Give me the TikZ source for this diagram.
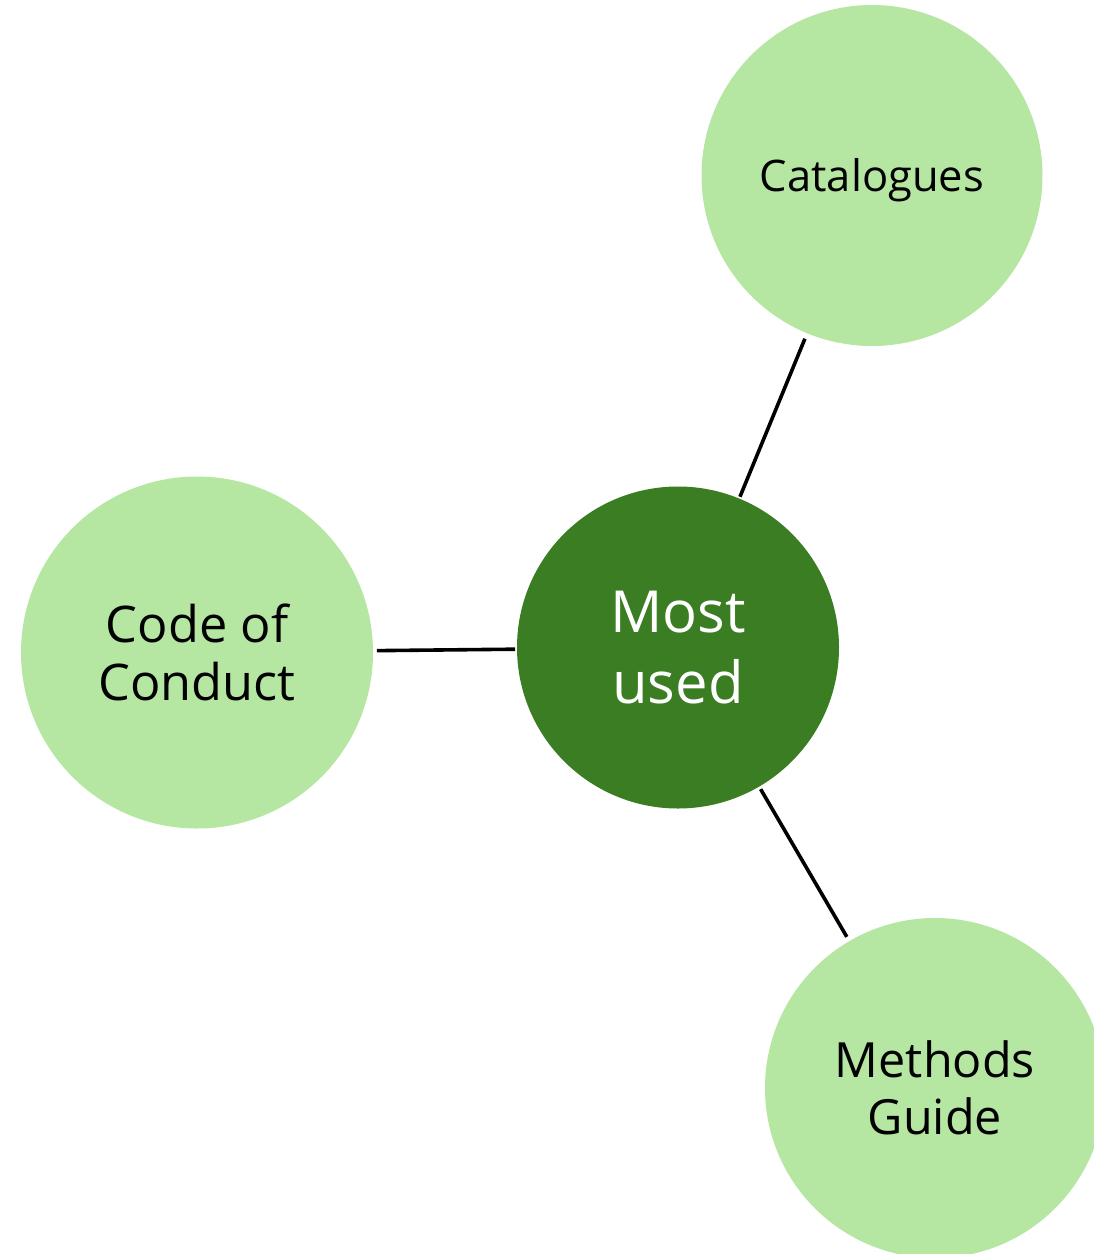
\documentclass[tikz,border=0pt]{standalone}
\usepackage{fontspec}
\setmainfont{Open Sans}
\definecolor{lightgreen}{HTML}{B5E6A2}
\definecolor{darkgreen}{HTML}{3B7D23}
\begin{document}
\begin{tikzpicture}[x=1pt,y=-1pt,
  bubble/.style={circle, fill=lightgreen, draw=none, inner sep=0pt, outer sep=0pt, align=center, text=black},
  hub/.style={circle, fill=darkgreen, draw=none, inner sep=0pt, outer sep=0pt, align=center, text=white},
  link/.style={draw=black, line width=3.6pt}]
\useasboundingbox (0,0) rectangle (1094,1254);
\node[hub, minimum size=322pt, font={\fontsize{58}{71}\selectfont}] (most) at (678,647.5) {Most\\used};
\node[bubble, minimum size=341pt, text height=31pt, text depth=0pt, font={\fontsize{43.5}{52}\selectfont}] (cat) at (872,175.5) {Catalogues};
\node[bubble, minimum size=352pt, font={\fontsize{50.5}{58}\selectfont}] (code) at (197,652.5) {Code of\\Conduct};
\node[bubble, minimum size=340pt, font={\fontsize{48.5}{57}\selectfont}] (meth) at (935,1088) {Methods\\Guide};
\draw[link, shorten <=6pt, shorten >=2pt] (cat) -- (most);
\draw[link, shorten <=4pt, shorten >=2pt] (code) -- (most);
\draw[link, shorten <=3pt, shorten >=5pt] (most) -- (meth);
\end{tikzpicture}
\end{document}
